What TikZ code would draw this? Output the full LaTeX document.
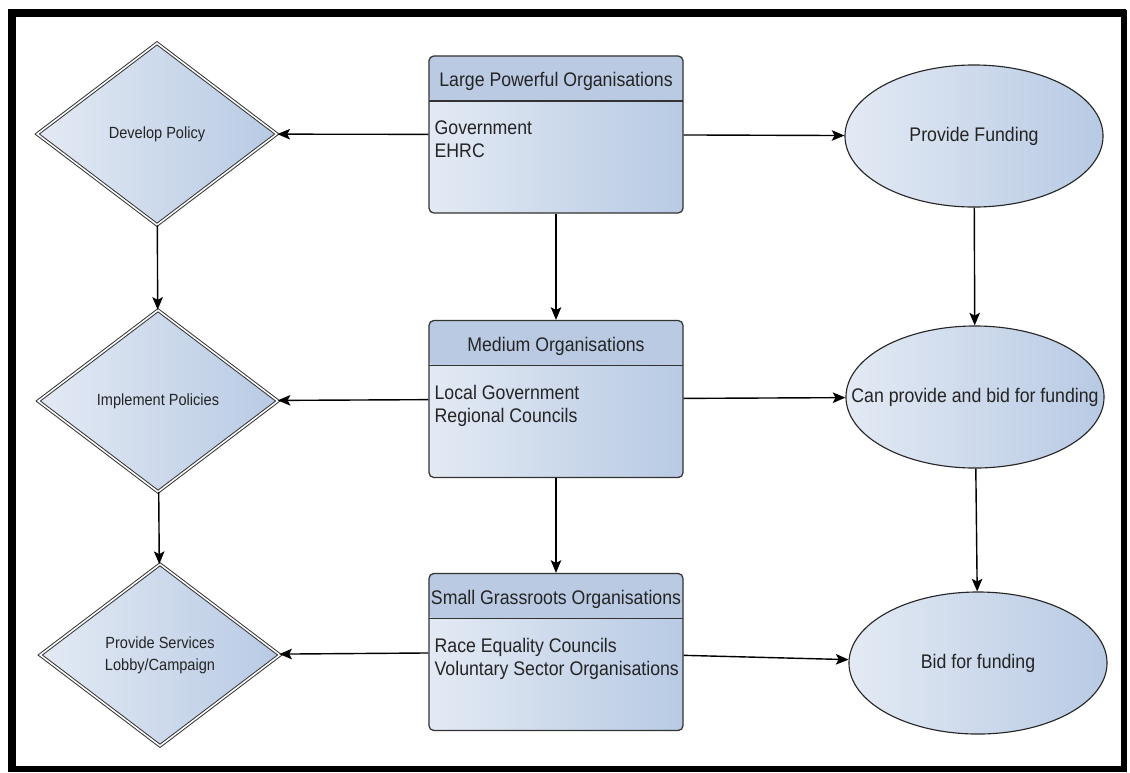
\documentclass[tikz,border=0pt]{standalone}
\usepackage{fontspec}
\setmainfont{Liberation Sans}[FakeStretch=0.9]
\usetikzlibrary{shapes.geometric,arrows.meta}

\definecolor{headblue}{HTML}{BACAE3}
\definecolor{paleblue}{HTML}{E3EAF4}
\definecolor{deepblue}{HTML}{B8CAE4}
\definecolor{inkgray}{HTML}{242424}

\tikzset{
    orgbox/.style={draw=black!80, line width=0.9pt, rounded corners=3.5pt,
        left color=paleblue, right color=deepblue,
        minimum width=6.35cm, minimum height=3.925cm, inner sep=0pt,
        path picture={
            \fill[headblue] (path picture bounding box.north west) rectangle ([yshift=-1.125cm]path picture bounding box.north east);
            \draw[black!80, line width=0.9pt] ([yshift=-1.125cm]path picture bounding box.north west) -- ([yshift=-1.125cm]path picture bounding box.north east);
        }},
    orgtitle/.style={inner sep=0pt, text=inkgray, font=\fontsize{14}{16.5}\selectfont},
    orgtext/.style={orgtitle, anchor=north west, align=left},
    actdiamond/.style={diamond, draw=black!80, line width=0.7pt, double=white, double distance=1.1pt,
        left color=paleblue, right color=deepblue,
        minimum width=6cm, minimum height=4.55cm, inner sep=0pt, align=center,
        text=inkgray, font=\fontsize{11.5}{15.5}\selectfont},
    fundellipse/.style={ellipse, draw=black!85, line width=0.8pt,
        left color=paleblue, right color=deepblue,
        minimum width=6.45cm, minimum height=3.55cm, inner sep=0pt,
        text=inkgray, font=\fontsize{14}{16.5}\selectfont},
    arr/.style={-{Stealth[length=9pt,width=7.5pt,inset=2pt]}, line width=1pt}
}

\begin{document}
\begin{tikzpicture}[x=0.025cm, y=-0.025cm]
    \useasboundingbox (0,0) rectangle (1130,772);
    \draw[line width=0.15cm] (12,12.5) rectangle (1124,769);
    \draw[line width=0.2cm] (12,772) |- (1126,12.5);

    % organisations
    \node(large) at (556,134.5) [orgbox] {};
    \node(largehd) at ([yshift=-0.66cm]large.north) [orgtitle] {Large Powerful Organisations};
    \node(largetx) at ([xshift=0.15cm,yshift=-1.63cm]large.north west) [orgtext] {Government\\EHRC};

    \node(medium) at (556,399) [orgbox] {};
    \node(mediumhd) at ([yshift=-0.66cm]medium.north) [orgtitle] {Medium Organisations};
    \node(mediumtx) at ([xshift=0.15cm,yshift=-1.63cm]medium.north west) [orgtext] {Local Government\\Regional Councils};

    \node(small) at (556,652) [orgbox] {};
    \node(smallhd) at ([yshift=-0.66cm]small.north) [orgtitle] {Small Grassroots Organisations};
    \node(smalltx) at ([xshift=0.15cm,yshift=-1.63cm]small.north west) [orgtext] {Race Equality Councils\\Voluntary Sector Organisations};

    % policy side
    \node(dev) at (157,134) [actdiamond] {Develop Policy};
    \node(impl) at (158,401) [actdiamond] {Implement Policies};
    \node(serv) at (160,655) [actdiamond] {Provide Services\\Lobby/Campaign};

    % funding side
    \node(fund) at (974,136) [fundellipse] {Provide Funding};
    \node(canbid) at (975,397) [fundellipse] {\makebox[0pt]{Can provide and bid for funding}};
    \node(bid) at (978,663) [fundellipse] {Bid for funding};

    \draw[arr] (large) -- (dev);
    \draw[arr] (large) -- (fund);
    \draw[arr] (large) -- (medium);
    \draw[arr] (medium) -- (impl);
    \draw[arr] (medium) -- (canbid);
    \draw[arr] (medium) -- (small);
    \draw[arr] (small) -- (serv);
    \draw[arr] (small) -- (bid);

    \draw[arr] (dev) -- (impl);
    \draw[arr] (impl) -- (serv);
    \draw[arr] (fund) -- (canbid);
    \draw[arr] (canbid) -- (bid);
\end{tikzpicture}
\end{document}
